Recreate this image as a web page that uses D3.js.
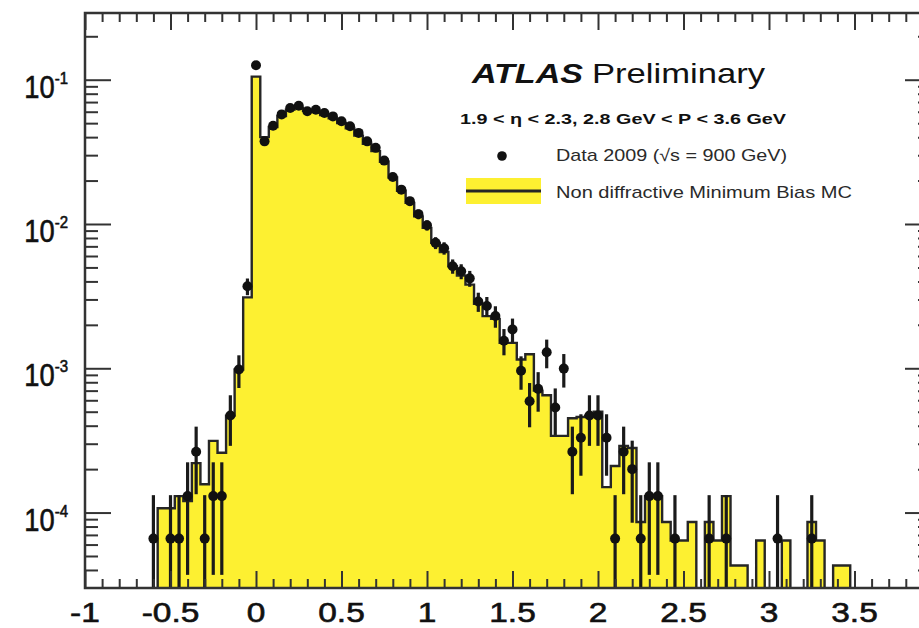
<!DOCTYPE html>
<html>
<head>
<meta charset="utf-8">
<script src="https://d3js.org/d3.v7.min.js"></script>
<style>
  body { margin: 0; background: #fff; }
  text { font-family: "Liberation Sans", Arial, Helvetica, sans-serif; fill: #111; }
  .tick line { stroke: #333; stroke-width: 2; }
  .domain { display: none; }
</style>
</head>
<body>
<div id="chart"></div>
<script>
// bin centres (bin width 0.05)
var binCenters = [-0.60, -0.55, -0.50, -0.45, -0.40, -0.35, -0.30, -0.25, -0.20, -0.15, -0.10, -0.05,
  0.00, 0.05, 0.10, 0.15, 0.20, 0.25, 0.30, 0.35, 0.40, 0.45, 0.50, 0.55, 0.60, 0.65, 0.70, 0.75, 0.80, 0.85, 0.90, 0.95,
  1.00, 1.05, 1.10, 1.15, 1.20, 1.25, 1.30, 1.35, 1.40, 1.45, 1.50, 1.55, 1.60, 1.65, 1.70, 1.75, 1.80, 1.85, 1.90, 1.95,
  2.00, 2.05, 2.10, 2.15, 2.20, 2.25, 2.30, 2.35, 2.40, 2.45, 2.50, 2.55, 2.60, 2.65, 2.70, 2.75, 2.80, 2.85, 2.90, 2.95,
  3.00, 3.05, 3.10, 3.15, 3.20, 3.25, 3.30, 3.35, 3.40, 3.45];
var binWidth = 0.05;

// Non diffractive Minimum Bias MC
var mcValues = [0, 1.07e-4, 1.07e-4, 1.3e-4, 1.2e-4, 2.2e-4, 1.57e-4, 3.14e-4, 2.6e-4, 4.7e-4, 9.8e-4, 3.1e-3,
  0.105, 0.040, 0.047, 0.056, 0.062, 0.064, 0.061, 0.060, 0.057, 0.054, 0.050, 0.046, 0.041, 0.036, 0.032, 0.027, 0.021, 0.017, 0.014, 0.0113,
  0.0094, 0.0074, 0.0064, 0.0051, 0.0044, 0.0038, 0.0028, 0.0023, 0.0022, 0.0015, 0.0015, 0.00115, 0.00125, 0.0007, 0.00065, 0.00034, 0.00034, 0.00045, 0.00046, 0.00047,
  0.0005, 0.00015, 0.00021, 0.00029, 0.00028, 8.6e-5, 1.3e-4, 1.3e-4, 8.6e-5, 6.4e-5, 6.4e-5, 8.6e-5, 0, 8.6e-5, 6.4e-5, 1.3e-4, 4.3e-5, 4.3e-5, 0, 6.4e-5,
  0, 0, 6.4e-5, 0, 0, 8.6e-5, 6.4e-5, 0, 4.3e-5, 4.3e-5];

// Data 2009
var dataValues = [6.6e-5, 0, 6.6e-5, 6.6e-5, 1.3e-4, 2.64e-4, 6.6e-5, 1.3e-4, 1.3e-4, 4.7e-4, 9.8e-4, 3.7e-3,
  0.126, 0.0374, 0.048, 0.0575, 0.0636, 0.066, 0.0604, 0.062, 0.0588, 0.0557, 0.0515, 0.0476, 0.0428, 0.0374, 0.0337, 0.0275, 0.0212, 0.0173, 0.0144, 0.0117,
  0.0098, 0.0074, 0.0068, 0.0051, 0.0047, 0.0042, 0.0029, 0.0027, 0.0023, 0.00155, 0.00186, 0.00096, 0.00059, 0.00072, 0.00129, 0.000535, 0.000995, 0.000264, 0.00033, 0.00047,
  0.00047, 0.00033, 6.6e-5, 2.64e-4, 2.0e-4, 6.6e-5, 1.3e-4, 1.3e-4, 0, 6.6e-5, 0, 0, 0, 6.6e-5, 0, 6.6e-5, 0, 0, 0, 0,
  0, 6.6e-5, 0, 0, 0, 6.6e-5, 0, 0, 0, 0];

var dataErrors = [6.6e-5, 0, 6.6e-5, 6.6e-5, 9.3e-5, 1.3e-4, 6.6e-5, 9.3e-5, 9.3e-5, 1.8e-4, 2.5e-4, 4.9e-4,
  0.0029, 0.0016, 0.0018, 0.0019, 0.0020, 0.0021, 0.0020, 0.0020, 0.0020, 0.0019, 0.0018, 0.0018, 0.0017, 0.0016, 0.0015, 0.0013, 0.0012, 0.0011, 0.0010, 0.0009,
  0.0008, 0.0007, 0.00067, 0.00058, 0.00056, 0.00053, 0.00044, 0.00042, 0.00039, 0.00032, 0.00035, 0.00025, 0.0002, 0.00022, 0.00029, 0.00019, 0.00026, 0.00013, 0.00015, 0.00018,
  0.00018, 0.00015, 6.6e-5, 1.3e-4, 1.15e-4, 6.6e-5, 9.3e-5, 9.3e-5, 0, 6.6e-5, 0, 0, 0, 6.6e-5, 0, 6.6e-5, 0, 0, 0, 0,
  0, 6.6e-5, 0, 0, 0, 6.6e-5, 0, 0, 0, 0];

// axis ticks
var xMajorTicks = [-1, -0.5, 0, 0.5, 1, 1.5, 2, 2.5, 3, 3.5];
var xTickLabels = ["-1", "-0.5", "0", "0.5", "1", "1.5", "2", "2.5", "3", "3.5"];
var xMinorTicks = [-0.9, -0.8, -0.7, -0.6, -0.4, -0.3, -0.2, -0.1, 0.1, 0.2, 0.3, 0.4, 0.6, 0.7, 0.8, 0.9,
  1.1, 1.2, 1.3, 1.4, 1.6, 1.7, 1.8, 1.9, 2.1, 2.2, 2.3, 2.4, 2.6, 2.7, 2.8, 2.9, 3.1, 3.2, 3.3, 3.4, 3.6, 3.7, 3.8, 3.9];
var yMajorTicks = [1e-4, 1e-3, 1e-2, 1e-1];
var yTickExponents = ["-4", "-3", "-2", "-1"];
var yMinorTicks = [4e-5, 5e-5, 6e-5, 7e-5, 8e-5, 9e-5,
  2e-4, 3e-4, 4e-4, 5e-4, 6e-4, 7e-4, 8e-4, 9e-4,
  2e-3, 3e-3, 4e-3, 5e-3, 6e-3, 7e-3, 8e-3, 9e-3,
  2e-2, 3e-2, 4e-2, 5e-2, 6e-2, 7e-2, 8e-2, 9e-2, 0.2];

var svgWidth = 919;
var svgHeight = 628;

var frame = { left: 85, right: 931, top: 13, bottom: 588 };

var yellow = "#fdf031";
var dark = "#262626";
var stretch = 1.24; // x labels in the picture are drawn wide

var svg = d3.select("#chart")
  .append("svg")
  .attr("width", svgWidth)
  .attr("height", svgHeight)
  .style("display", "block");

svg.append("rect")
  .attr("width", svgWidth)
  .attr("height", svgHeight)
  .attr("fill", "#fff");

var xScale = d3.scaleLinear()
  .domain([-1, 4])
  .range([frame.left, 940]);

var yScale = d3.scaleLog()
  .domain([3e-5, 0.29])
  .range([frame.bottom, frame.top]);

svg.append("clipPath")
  .attr("id", "plotClip")
  .append("rect")
  .attr("x", frame.left)
  .attr("y", frame.top)
  .attr("width", frame.right - frame.left)
  .attr("height", frame.bottom - frame.top);

var plot = svg.append("g").attr("clip-path", "url(#plotClip)");

function yPos(v) {
  return v > 0 ? yScale(v) : frame.bottom + 10;
}

// MC histogram as a stepped outline
var mcPath = d3.path();
mcPath.moveTo(xScale(binCenters[0] - binWidth / 2), frame.bottom + 10);
binCenters.forEach(function(c, i) {
  var lo = xScale(c - binWidth / 2);
  var hi = xScale(c + binWidth / 2);
  mcPath.lineTo(lo, yPos(mcValues[i]));
  mcPath.lineTo(hi, yPos(mcValues[i]));
});
mcPath.lineTo(xScale(binCenters[binCenters.length - 1] + binWidth / 2), frame.bottom + 10);

plot.append("path")
  .attr("d", mcPath.toString())
  .attr("fill", yellow)
  .attr("stroke", dark)
  .attr("stroke-width", 2.4)
  .attr("stroke-linejoin", "miter");

// data points with error bars
var points = binCenters.map(function(c, i) {
  return { x: c, y: dataValues[i], err: dataErrors[i] };
}).filter(function(d) { return d.y > 0; });

plot.append("g")
  .selectAll("line")
  .data(points)
  .enter()
  .append("line")
  .attr("x1", d => xScale(d.x))
  .attr("x2", d => xScale(d.x))
  .attr("y1", d => yPos(d.y - d.err))
  .attr("y2", d => yPos(d.y + d.err))
  .attr("stroke", "#1a1a1a")
  .attr("stroke-width", 3.2);

plot.append("g")
  .selectAll("circle")
  .data(points)
  .enter()
  .append("circle")
  .attr("cx", d => xScale(d.x))
  .attr("cy", d => yScale(d.y))
  .attr("r", 5)
  .attr("fill", "#111");

// axes, ROOT style ticks pointing inwards
svg.append("g")
  .attr("transform", `translate(0, ${frame.bottom})`)
  .call(d3.axisBottom(xScale).tickValues(xMajorTicks).tickSize(-17).tickFormat(""));
svg.append("g")
  .attr("transform", `translate(0, ${frame.bottom})`)
  .call(d3.axisBottom(xScale).tickValues(xMinorTicks).tickSize(-9).tickFormat(""));
svg.append("g")
  .attr("transform", `translate(0, ${frame.top})`)
  .call(d3.axisTop(xScale).tickValues(xMajorTicks).tickSize(-17).tickFormat(""));
svg.append("g")
  .attr("transform", `translate(0, ${frame.top})`)
  .call(d3.axisTop(xScale).tickValues(xMinorTicks).tickSize(-9).tickFormat(""));

svg.append("g")
  .attr("transform", `translate(${frame.left}, 0)`)
  .call(d3.axisLeft(yScale).tickValues(yMajorTicks).tickSize(-26).tickFormat(""));
svg.append("g")
  .attr("transform", `translate(${frame.left}, 0)`)
  .call(d3.axisLeft(yScale).tickValues(yMinorTicks).tickSize(-13).tickFormat(""));
svg.append("g")
  .attr("transform", `translate(${frame.right}, 0)`)
  .call(d3.axisRight(yScale).tickValues(yMajorTicks).tickSize(-26).tickFormat(""));
svg.append("g")
  .attr("transform", `translate(${frame.right}, 0)`)
  .call(d3.axisRight(yScale).tickValues(yMinorTicks).tickSize(-13).tickFormat(""));

// frame
svg.append("rect")
  .attr("x", frame.left)
  .attr("y", frame.top)
  .attr("width", frame.right - frame.left)
  .attr("height", frame.bottom - frame.top)
  .attr("fill", "none")
  .attr("stroke", "#333")
  .attr("stroke-width", 2.5);

// x tick labels
svg.append("g")
  .selectAll("text")
  .data(xMajorTicks)
  .enter()
  .append("text")
  .attr("transform", d => `translate(${xScale(d)}, 622) scale(${stretch}, 1)`)
  .attr("text-anchor", "middle")
  .style("font-size", "27px")
  .style("stroke", "#111")
  .style("stroke-width", 0.6)
  .text((d, i) => xTickLabels[i]);

// y tick labels: 10 with exponent, one text each
var yLabels = svg.append("g")
  .selectAll("text")
  .data(yMajorTicks)
  .enter()
  .append("text")
  .attr("transform", d => `translate(68, ${yScale(d) + 18}) scale(0.88, 1)`)
  .attr("text-anchor", "end")
  .style("stroke", "#111")
  .style("stroke-width", 0.6);

yLabels.append("tspan")
  .style("font-size", "31px")
  .text("10");

yLabels.append("tspan")
  .attr("dy", -14)
  .style("font-size", "17px")
  .text((d, i) => yTickExponents[i]);

// legend block
var legend = svg.append("g");

legend.append("text")
  .attr("x", 472)
  .attr("y", 83)
  .attr("textLength", 111)
  .attr("lengthAdjust", "spacingAndGlyphs")
  .style("font-size", "28px")
  .style("font-weight", "bold")
  .style("font-style", "italic")
  .text("ATLAS");

legend.append("text")
  .attr("x", 592)
  .attr("y", 83)
  .attr("textLength", 173)
  .attr("lengthAdjust", "spacingAndGlyphs")
  .style("font-size", "28px")
  .text("Preliminary");

legend.append("text")
  .attr("x", 460)
  .attr("y", 124)
  .attr("textLength", 326)
  .attr("lengthAdjust", "spacingAndGlyphs")
  .style("font-size", "14px")
  .style("font-weight", "bold")
  .text("1.9 < η < 2.3, 2.8 GeV < P < 3.6 GeV");

legend.append("circle")
  .attr("cx", 502)
  .attr("cy", 156)
  .attr("r", 4.8)
  .attr("fill", "#111");

legend.append("text")
  .attr("x", 556)
  .attr("y", 161)
  .attr("textLength", 231)
  .attr("lengthAdjust", "spacingAndGlyphs")
  .style("font-size", "17px")
  .style("fill", "#2a2a2a")
  .text("Data 2009 (√s = 900 GeV)");

legend.append("rect")
  .attr("x", 466)
  .attr("y", 178)
  .attr("width", 75)
  .attr("height", 26)
  .attr("fill", yellow);

legend.append("line")
  .attr("x1", 466)
  .attr("x2", 541)
  .attr("y1", 191)
  .attr("y2", 191)
  .attr("stroke", dark)
  .attr("stroke-width", 3);

legend.append("text")
  .attr("x", 556)
  .attr("y", 198)
  .attr("textLength", 296)
  .attr("lengthAdjust", "spacingAndGlyphs")
  .style("font-size", "17px")
  .style("fill", "#2a2a2a")
  .text("Non diffractive Minimum Bias MC");
</script>
</body>
</html>
